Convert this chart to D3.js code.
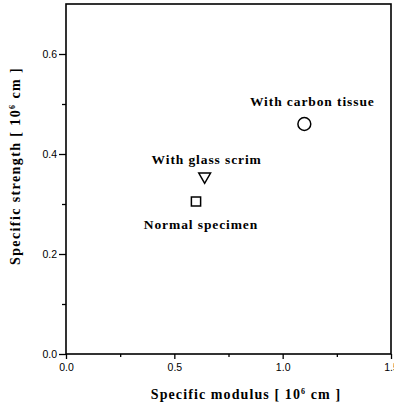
<!DOCTYPE html>
<html lang="en">
<head>
    <meta charset="UTF-8">
    <title>Specific strength vs specific modulus</title>
    <script src="https://d3js.org/d3.v7.js"></script>
    <style>
        body { margin: 0; background: white; }
        svg { display: block; }
    </style>
</head>
<body>
<svg id="chart" width="394" height="408"></svg>
<script>
// data
var labels = ["With carbon tissue", "With glass scrim", "Normal specimen"];
var modulus = [1.1, 0.64, 0.6];
var strength = [0.46, 0.355, 0.305];
var shapes = ["circle", "triangle", "square"];

var xTicks = [0, 0.5, 1.0, 1.5];
var xMinor = [0.25, 0.75, 1.25];
var yTicks = [0, 0.2, 0.4, 0.6];
var yMinor = [0.1, 0.3, 0.5];

var svg = d3.select("#chart");

var x = d3.scaleLinear().domain([0, 1.5]).range([66, 391]);
var y = d3.scaleLinear().domain([0, 0.7]).range([354, 4]);

// frame
svg.append("rect")
    .attr("x", x(0)).attr("y", y(0.7))
    .attr("width", x(1.5) - x(0)).attr("height", y(0) - y(0.7))
    .attr("fill", "none").attr("stroke", "black").attr("stroke-width", 1.6);

// axes
svg.append("g")
    .attr("transform", "translate(0," + y(0) + ")")
    .call(d3.axisBottom(x).tickValues(xTicks).tickSize(5).tickPadding(5)
        .tickFormat(d3.format(".1f")));
svg.append("g")
    .attr("transform", "translate(0," + y(0) + ")")
    .call(d3.axisBottom(x).tickValues(xMinor).tickSize(3).tickFormat(""));

svg.append("g")
    .attr("transform", "translate(" + x(0) + ",0)")
    .call(d3.axisLeft(y).tickValues(yTicks).tickSize(7).tickPadding(2)
        .tickFormat(d3.format(".1f")));
svg.append("g")
    .attr("transform", "translate(" + x(0) + ",0)")
    .call(d3.axisLeft(y).tickValues(yMinor).tickSize(4).tickFormat(""));

svg.selectAll(".domain").remove();
svg.selectAll(".tick line").attr("stroke-width", 1.3);
svg.selectAll(".tick text")
    .attr("font-family", "Liberation Sans, Arial, sans-serif")
    .attr("font-size", 10.5).attr("fill", "black");

// axis titles
var titleFont = "Liberation Serif, Times New Roman, serif";
var xt = svg.append("text")
    .attr("x", 246).attr("y", 399)
    .attr("text-anchor", "middle")
    .attr("font-family", titleFont).attr("font-weight", "bold")
    .attr("font-size", 14).attr("letter-spacing", 1.1);
xt.append("tspan").text("Specific modulus [ 10");
xt.append("tspan").attr("dy", -5).attr("font-size", 8).text("6");
xt.append("tspan").attr("dy", 5).text(" cm ]");

var yt = svg.append("text")
    .attr("transform", "translate(20,166) rotate(-90)")
    .attr("text-anchor", "middle")
    .attr("font-family", titleFont).attr("font-weight", "bold")
    .attr("font-size", 14).attr("letter-spacing", 1.4);
yt.append("tspan").text("Specific strength [ 10");
yt.append("tspan").attr("dy", -5).attr("font-size", 8).text("6");
yt.append("tspan").attr("dy", 5).text(" cm ]");

// markers
var sym = {
    circle: d3.symbol().type(d3.symbolCircle).size(130),
    square: d3.symbol().type(d3.symbolSquare).size(85),
    triangle: d3.symbol().type(d3.symbolTriangle).size(60)
};
svg.append("g").selectAll("path")
    .data(d3.range(labels.length))
    .enter()
    .append("path")
    .attr("d", function (i) { return sym[shapes[i]](); })
    .attr("transform", function (i) {
        var t = "translate(" + x(modulus[i]) + "," + y(strength[i]) + ")";
        if (shapes[i] == "triangle") t += " rotate(180)";
        return t;
    })
    .attr("fill", "none").attr("stroke", "black").attr("stroke-width", 1.5);

// point labels (offset above / below the marker)
var labelDy = [-18, -13, 27];
var labelDx = [8, 2, 5];
svg.append("g").selectAll("text")
    .data(d3.range(labels.length))
    .enter()
    .append("text")
    .attr("x", function (i) { return x(modulus[i]) + labelDx[i]; })
    .attr("y", function (i) { return y(strength[i]) + labelDy[i]; })
    .attr("text-anchor", "middle")
    .attr("font-family", titleFont).attr("font-weight", "bold")
    .attr("font-size", 13.5).attr("letter-spacing", 0.9)
    .text(function (i) { return labels[i]; });
</script>
</body>
</html>
